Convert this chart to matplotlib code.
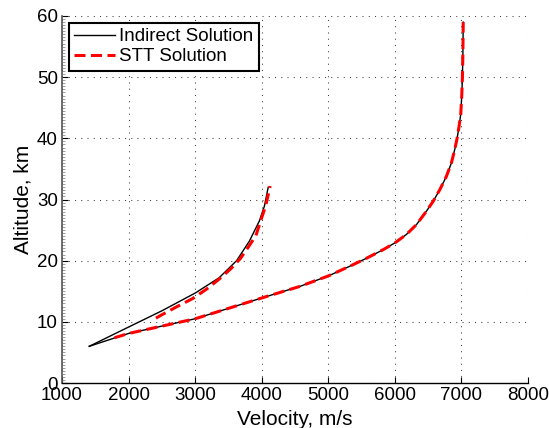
import matplotlib

matplotlib.use("Agg")

import numpy as np
import matplotlib.pyplot as plt

plt.rcParams["font.family"] = ["Liberation Sans", "DejaVu Sans"]

# Indirect solution: lower (fast) branch and upper (slow) branch
indirect_lower_v = [1410, 1800, 2000, 2500, 3000, 3500, 4000, 4575, 5000, 5325, 5575,
                    5825, 6000, 6175, 6325, 6475, 6575, 6675, 6775, 6850, 6900,
                    6935, 6965, 6990, 7005, 7015, 7022, 7027]
indirect_lower_h = [6.0, 7.4, 8.1, 9.3, 10.5, 12.2, 13.9, 15.8, 17.5, 19.1, 20.4,
                    21.8, 22.9, 24.3, 25.9, 28.1, 29.7, 31.6, 33.8, 36.0, 38.2,
                    40.0, 42.0, 44.0, 47.0, 50.0, 54.0, 59.0]
indirect_upper_v = [1410, 2000, 2321, 2500, 3000, 3360, 3623, 3815, 3965, 4040, 4090, 4098]
indirect_upper_h = [6.0, 9.15, 10.85, 11.8, 14.7, 17.2, 20.0, 23.2, 26.5, 28.9, 31.6, 32.0]

# STT solution
stt_lower_v = [1790, 2000, 2500, 3000, 3500, 4000, 4575, 5000, 5325, 5575,
               5825, 6000, 6175, 6325, 6475, 6575, 6675, 6775, 6850, 6900,
               6935, 6965, 6990, 7005, 7015, 7022, 7027]
stt_lower_h = [7.4, 8.1, 9.3, 10.5, 12.2, 13.9, 15.8, 17.5, 19.1, 20.4,
               21.8, 22.9, 24.3, 25.9, 28.1, 29.7, 31.6, 33.8, 36.0, 38.2,
               40.0, 42.0, 44.0, 47.0, 50.0, 54.0, 59.0]
stt_upper_v = [2411, 2471, 2722, 2962, 3172, 3362, 3538, 3683, 3797, 3913, 3990, 4060, 4115, 4125]
stt_upper_h = [10.6, 10.98, 12.46, 13.8, 15.35, 17.0, 18.7, 20.4, 22.2, 24.1, 26.7, 29.0, 31.6, 32.2]

x_ticks = [1000, 2000, 3000, 4000, 5000, 6000, 7000, 8000]
y_ticks = [0, 10, 20, 30, 40, 50, 60]

fig = plt.figure(figsize=(5.49, 4.28), dpi=100)
ax = fig.add_axes([62 / 549, 45 / 428, 466 / 549, 367 / 428])

ax.plot(indirect_lower_v, indirect_lower_h, color="k", lw=1.0, label="Indirect Solution")
ax.plot(indirect_upper_v, indirect_upper_h, color="k", lw=1.0)
ax.plot(stt_lower_v, stt_lower_h, color="#ff0000", lw=2.2, dashes=(3.6, 1.8),
        label="STT Solution")
ax.plot(stt_upper_v, stt_upper_h, color="#ff0000", lw=2.2, dashes=(3.6, 1.8))

ax.set_xlim(1000, 8000)
ax.set_ylim(0, 60)
ax.set_xticks(x_ticks)
ax.set_yticks(y_ticks)
ax.set_yticks(np.arange(0, 60.1, 0.5), minor=True)
ax.tick_params(axis="both", which="major", direction="in", length=4, labelsize=13.5, pad=3)
ax.tick_params(axis="y", which="minor", direction="in", length=2, width=0.5, color="#777777")
ax.grid(True, which="major", color="#404040", linestyle=(0, (1, 5)), lw=0.75)

ax.spines["top"].set_visible(False)
ax.spines["right"].set_visible(False)
ax.spines["left"].set_color("#555555")
ax.spines["left"].set_linewidth(1.2)
ax.spines["bottom"].set_linewidth(1.0)

ax.set_xlabel("Velocity, m/s", fontsize=15, labelpad=4)
ax.set_ylabel("Altitude, km", fontsize=15, labelpad=3)

leg = ax.legend(loc="upper left", fontsize=13.5, frameon=True, fancybox=False,
                borderaxespad=0.35, handlelength=2.2, handletextpad=0.2,
                labelspacing=0.15, borderpad=0.3)
leg.get_frame().set_edgecolor("k")
leg.get_frame().set_linewidth(1.5)
leg.get_frame().set_alpha(1.0)

fig.savefig("out.png", dpi=100)
